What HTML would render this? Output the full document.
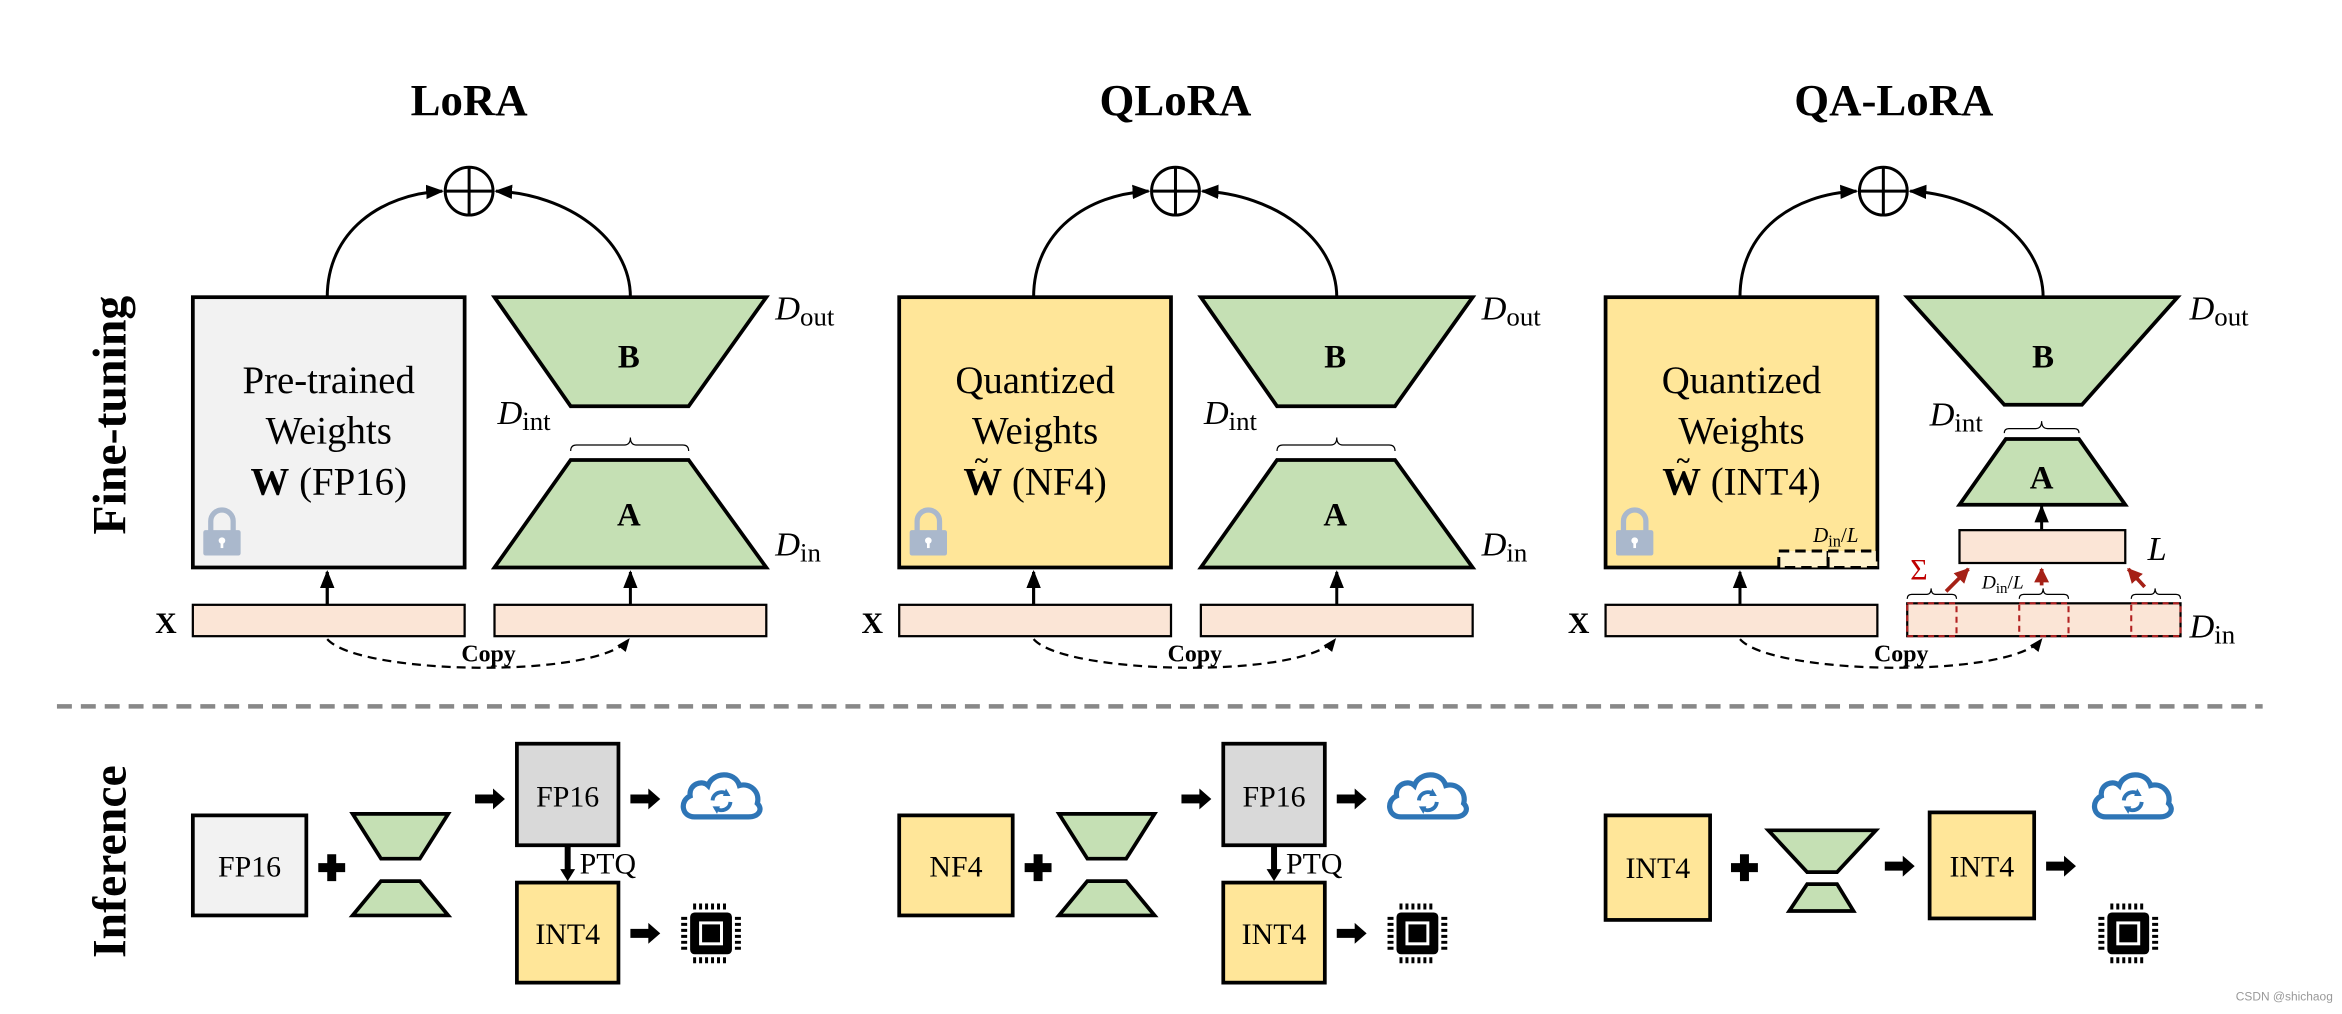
<!DOCTYPE html>
<html><head><meta charset="utf-8"><style>
html,body{margin:0;padding:0;background:#fff;}
svg{display:block;}
text{font-family:"Liberation Serif",serif;}
</style></head><body>
<svg width="2342" height="1014" viewBox="0 0 1568 679" xmlns="http://www.w3.org/2000/svg">
<defs>
<marker id="ah" viewBox="0 0 10 10" refX="9" refY="5" markerWidth="6" markerHeight="6" orient="auto-start-reverse"><path d="M0,1 L10,5 L0,9 z" fill="#000"/></marker>
<marker id="rh" viewBox="0 0 10 10" refX="9" refY="5" markerWidth="4" markerHeight="4" orient="auto"><path d="M0,0 L10,5 L0,10 z" fill="#a52016"/></marker>
<g id="lock"><path d="M141,356 v-7 a7.5,7.5 0 0 1 15,0 v7" fill="none" stroke="#aab8cc" stroke-width="3.5"/><rect x="136" y="355" width="25" height="17" rx="1.5" fill="#aab8cc"/><circle cx="148.5" cy="362" r="2.2" fill="#fff"/><rect x="147.6" y="362" width="1.8" height="5" fill="#fff"/></g>
<g id="plus"><circle cx="0" cy="0" r="16" fill="#fff" stroke="#000" stroke-width="2"/><path d="M-16,0 H16 M0,-16 V16" stroke="#000" stroke-width="2"/></g>
<g id="cloud"><path d="M10,33 C1,33 0,22 7,19 C6,11 15,8 19,12 C22,3 37,2 40,12 C47,10 54,16 52,24 C56,28 53,33 46,33 Z" fill="none" stroke="#2e75b6" stroke-width="3.5"/><path d="M22,22 a6,6 0 0 1 10,-4 M34,23 a6,6 0 0 1 -10,4" fill="none" stroke="#2e75b6" stroke-width="2.6"/><path d="M31,14 l3,5 l-5,0z M25,31 l-3,-5 l5,0z" fill="#2e75b6"/></g>
<g id="chip"><rect x="6" y="6" width="28" height="28" rx="3" fill="#000"/><rect x="12" y="12" width="16" height="16" fill="#fff"/><rect x="14" y="14" width="12" height="12" fill="#000"/>
<path d="M9,0v4M13,0v4M17,0v4M21,0v4M25,0v4M29,0v4 M9,36v4M13,36v4M17,36v4M21,36v4M25,36v4M29,36v4 M0,10h4M0,14h4M0,18h4M0,22h4M0,26h4M0,30h4 M36,10h4M36,14h4M36,18h4M36,22h4M36,26h4M36,30h4" stroke="#000" stroke-width="2"/></g>
<g id="barrow"><path d="M0,-3 H12 V-7 L20,0 L12,7 V3 H0 Z" fill="#000"/></g>
<g id="bplus"><path d="M-3,-9 h6 v6 h6 v6 h-6 v6 h-6 v-6 h-6 v-6 h6 z" fill="#000"/></g>
</defs>

<text transform="translate(84,278) rotate(-90)" text-anchor="middle" font-size="32" font-weight="bold">Fine-tuning</text>
<text transform="translate(84,577) rotate(-90)" text-anchor="middle" font-size="32" font-weight="bold">Inference</text>

<text x="314" y="77" text-anchor="middle" font-size="30" font-weight="bold">LoRA</text>
<text x="787" y="77" text-anchor="middle" font-size="30" font-weight="bold">QLoRA</text>
<text x="1268" y="77" text-anchor="middle" font-size="30" font-weight="bold">QA-LoRA</text>

<g id="pan">
<path d="M219,199 C219,155 255,130 296,128" fill="none" stroke="#000" stroke-width="2" marker-end="url(#ah)"/>
<path d="M422,199 C422,160 380,130 332,128" fill="none" stroke="#000" stroke-width="2" marker-end="url(#ah)"/>
<polygon points="331,199 513,199 461,272 382,272" fill="#c5e0b4" stroke="#000" stroke-width="2.5"/>
<polygon points="382,308 461,308 513,380 331,380" fill="#c5e0b4" stroke="#000" stroke-width="2.5"/>
<text x="421" y="246" text-anchor="middle" font-size="22" font-weight="bold">B</text>
<text x="421" y="352" text-anchor="middle" font-size="22" font-weight="bold">A</text>
<path d="M382,302 q0,-4 4,-4 h32 q4,0 4,-5 q0,5 4,5 h31 q4,0 4,4" fill="none" stroke="#000" stroke-width="0.8"/>
<text x="519" y="214" font-size="23"><tspan font-style="italic">D</tspan><tspan font-size="18" dy="4">out</tspan></text>
<text x="333" y="284" font-size="23"><tspan font-style="italic">D</tspan><tspan font-size="18" dy="4">int</tspan></text>
<text x="519" y="372" font-size="23"><tspan font-style="italic">D</tspan><tspan font-size="18" dy="4">in</tspan></text>
<rect x="331" y="405" width="182" height="21" fill="#fbe5d6" stroke="#000" stroke-width="1.5"/>
<line x1="219" y1="405" x2="219" y2="383" stroke="#000" stroke-width="2" marker-end="url(#ah)"/>
<line x1="422" y1="405" x2="422" y2="383" stroke="#000" stroke-width="2" marker-end="url(#ah)"/>
<text x="111" y="424" text-anchor="middle" font-size="20" font-weight="bold">X</text>
<path d="M219,428 C240,452 400,455 421,428" fill="none" stroke="#000" stroke-width="1.5" stroke-dasharray="6,4" marker-end="url(#ah)"/>
<text x="327" y="443" text-anchor="middle" font-size="16" font-weight="bold">Copy</text>
</g>
<use href="#plus" x="314" y="128"/>
<rect x="129" y="199" width="182" height="181" fill="#f2f2f2" stroke="#000" stroke-width="2.5"/>
<rect x="129" y="405" width="182" height="21" fill="#fbe5d6" stroke="#000" stroke-width="1.5"/>
<line x1="219" y1="405" x2="219" y2="383" stroke="#000" stroke-width="2" marker-end="url(#ah)"/>
<text x="220" y="263" text-anchor="middle" font-size="26">Pre-trained</text>
<text x="220" y="297" text-anchor="middle" font-size="26">Weights</text>
<text x="220" y="331" text-anchor="middle" font-size="26"><tspan font-weight="bold">W</tspan> (FP16)</text>
<use href="#lock"/>

<use href="#pan" x="473"/>
<use href="#plus" x="787" y="128"/>
<rect x="602" y="199" width="182" height="181" fill="#ffe699" stroke="#000" stroke-width="2.5"/>
<rect x="602" y="405" width="182" height="21" fill="#fbe5d6" stroke="#000" stroke-width="1.5"/>
<line x1="692" y1="405" x2="692" y2="383" stroke="#000" stroke-width="2" marker-end="url(#ah)"/>
<text x="693" y="263" text-anchor="middle" font-size="26">Quantized</text>
<text x="693" y="297" text-anchor="middle" font-size="26">Weights</text>
<text x="693" y="331" text-anchor="middle" font-size="26"><tspan font-weight="bold">W</tspan> (NF4)</text>
<text x="657" y="314" text-anchor="middle" font-size="17" font-weight="bold">~</text>
<use href="#lock" x="473"/>

<use href="#plus" x="1261" y="128"/>
<path d="M1165,199 C1165,155 1200,130 1243,128" fill="none" stroke="#000" stroke-width="2" marker-end="url(#ah)"/>
<path d="M1368,199 C1368,160 1325,130 1279,128" fill="none" stroke="#000" stroke-width="2" marker-end="url(#ah)"/>
<rect x="1075" y="199" width="182" height="181" fill="#ffe699" stroke="#000" stroke-width="2.5"/>
<text x="1166" y="263" text-anchor="middle" font-size="26">Quantized</text>
<text x="1166" y="297" text-anchor="middle" font-size="26">Weights</text>
<text x="1166" y="331" text-anchor="middle" font-size="26"><tspan font-weight="bold">W</tspan> (INT4)</text>
<text x="1127" y="314" text-anchor="middle" font-size="17" font-weight="bold">~</text>
<use href="#lock" x="946"/>
<rect x="1191" y="369" width="33" height="11" fill="#fff2cc" stroke="#000" stroke-width="2" stroke-dasharray="7,4"/>
<rect x="1224" y="369" width="33" height="11" fill="#fff2cc" stroke="#000" stroke-width="2" stroke-dasharray="7,4"/>
<text x="1214" y="363" font-size="14"><tspan font-style="italic">D</tspan><tspan font-size="11" dy="3">in</tspan><tspan dy="-3">/</tspan><tspan font-style="italic">L</tspan></text>

<polygon points="1277,199 1458,199 1394,271 1342,271" fill="#c5e0b4" stroke="#000" stroke-width="2.5"/>
<text x="1368" y="246" text-anchor="middle" font-size="22" font-weight="bold">B</text>
<polygon points="1343,294 1392,294 1423,338 1312,338" fill="#c5e0b4" stroke="#000" stroke-width="2.5"/>
<text x="1367" y="327" text-anchor="middle" font-size="22" font-weight="bold">A</text>
<path d="M1342,290 q0,-3 3,-3 h18 q4,0 4,-5 q0,5 4,5 h18 q3,0 3,3" fill="none" stroke="#000" stroke-width="0.8"/>
<text x="1466" y="214" font-size="23"><tspan font-style="italic">D</tspan><tspan font-size="18" dy="4">out</tspan></text>
<text x="1292" y="285" font-size="23"><tspan font-style="italic">D</tspan><tspan font-size="18" dy="4">int</tspan></text>
<rect x="1312" y="355" width="111" height="22" fill="#fbe5d6" stroke="#000" stroke-width="1.5"/>
<line x1="1367" y1="355" x2="1367" y2="339" stroke="#000" stroke-width="2" marker-end="url(#ah)"/>
<text x="1438" y="375" font-size="23" font-style="italic">L</text>

<rect x="1075" y="405" width="182" height="21" fill="#fbe5d6" stroke="#000" stroke-width="1.5"/>
<line x1="1165" y1="405" x2="1165" y2="383" stroke="#000" stroke-width="2" marker-end="url(#ah)"/>
<text x="1057" y="424" text-anchor="middle" font-size="20" font-weight="bold">X</text>
<path d="M1165,428 C1186,452 1346,455 1367,428" fill="none" stroke="#000" stroke-width="1.5" stroke-dasharray="6,4" marker-end="url(#ah)"/>
<text x="1273" y="443" text-anchor="middle" font-size="16" font-weight="bold">Copy</text>

<rect x="1277" y="404" width="183" height="22" fill="#fbe5d6" stroke="#000" stroke-width="1.5"/>
<g fill="none" stroke="#b22222" stroke-width="1.4" stroke-dasharray="4,3">
<rect x="1277" y="404" width="33" height="22"/><rect x="1352" y="404" width="33" height="22"/><rect x="1427" y="404" width="33" height="22"/></g>
<g fill="none" stroke="#000" stroke-width="0.8">
<path d="M1277,401 q0,-3 3,-3 h10 q3,0 3,-4 q0,4 3,4 h11 q3,0 3,3"/>
<path d="M1352,401 q0,-3 3,-3 h10 q3,0 3,-4 q0,4 3,4 h11 q3,0 3,3"/>
<path d="M1427,401 q0,-3 3,-3 h10 q3,0 3,-4 q0,4 3,4 h11 q3,0 3,3"/></g>
<g stroke="#a52016" stroke-width="2.5">
<line x1="1303" y1="396" x2="1318" y2="381" marker-end="url(#rh)"/>
<line x1="1367" y1="392" x2="1367" y2="381" marker-end="url(#rh)"/>
<line x1="1436" y1="393" x2="1425" y2="381" marker-end="url(#rh)"/></g>
<text x="1279" y="388" font-size="20" fill="#c00000">Σ</text>
<text x="1327" y="394" font-size="13"><tspan font-style="italic">D</tspan><tspan font-size="10" dy="3">in</tspan><tspan dy="-3">/</tspan><tspan font-style="italic">L</tspan></text>
<text x="1466" y="427" font-size="23"><tspan font-style="italic">D</tspan><tspan font-size="18" dy="4">in</tspan></text>

<line x1="38" y1="473" x2="1515" y2="473" stroke="#888" stroke-width="3" stroke-dasharray="10,6"/>

<g id="inf">
<use href="#bplus" x="222" y="581"/>
<polygon points="236,545 300,545 281,575 255,575" fill="#c5e0b4" stroke="#000" stroke-width="2.5"/>
<polygon points="255,590 281,590 300,613 236,613" fill="#c5e0b4" stroke="#000" stroke-width="2.5"/>
<use href="#barrow" x="318" y="535"/>
<rect x="346" y="498" width="68" height="68" fill="#d9d9d9" stroke="#000" stroke-width="2.5"/>
<text x="380" y="540" text-anchor="middle" font-size="20">FP16</text>
<use href="#barrow" x="422" y="535"/>
<use href="#cloud" x="455" y="514"/>
<path d="M378,567 h4 v15 h3 l-5,8 l-5,-8 h3 z" fill="#000"/>
<text x="388" y="585" font-size="20">PTQ</text>
<rect x="346" y="591" width="68" height="67" fill="#ffe699" stroke="#000" stroke-width="2.5"/>
<text x="380" y="632" text-anchor="middle" font-size="20">INT4</text>
<use href="#barrow" x="422" y="625"/>
<use href="#chip" x="456" y="605"/>
</g>
<rect x="129" y="546" width="76" height="67" fill="#f2f2f2" stroke="#000" stroke-width="2.5"/>
<text x="167" y="587" text-anchor="middle" font-size="20">FP16</text>
<use href="#inf" x="473"/>
<rect x="602" y="546" width="76" height="67" fill="#ffe699" stroke="#000" stroke-width="2.5"/>
<text x="640" y="587" text-anchor="middle" font-size="20">NF4</text>

<rect x="1075" y="546" width="70" height="70" fill="#ffe699" stroke="#000" stroke-width="2.5"/>
<text x="1110" y="588" text-anchor="middle" font-size="20">INT4</text>
<use href="#bplus" x="1168" y="581"/>
<polygon points="1184,556 1256,556 1230,584 1210,584" fill="#c5e0b4" stroke="#000" stroke-width="2.5"/>
<polygon points="1210,592 1230,592 1241,610 1198,610" fill="#c5e0b4" stroke="#000" stroke-width="2.5"/>
<use href="#barrow" x="1262" y="580"/>
<rect x="1292" y="544" width="70" height="71" fill="#ffe699" stroke="#000" stroke-width="2.5"/>
<text x="1327" y="587" text-anchor="middle" font-size="20">INT4</text>
<use href="#barrow" x="1370" y="580"/>
<use href="#cloud" x="1400" y="514"/>
<use href="#chip" x="1405" y="605"/>

<text x="1562" y="670" text-anchor="end" font-size="8" fill="#999" style="font-family:'Liberation Sans',sans-serif">CSDN @shichaog</text>
</svg>
</body></html>
